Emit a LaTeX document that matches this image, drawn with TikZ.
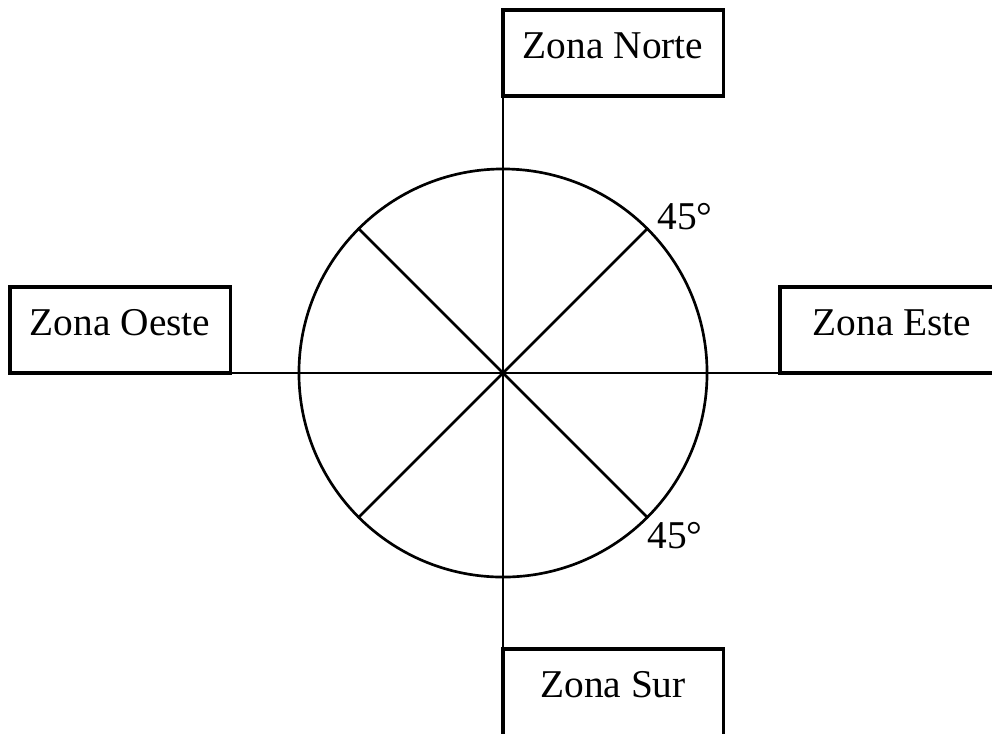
\documentclass[tikz,border=0pt]{standalone}
\usepackage{fontspec}
\setmainfont{Liberation Serif}
\usetikzlibrary{positioning}

\begin{document}
\begin{tikzpicture}[x=0.025cm, y=-0.025cm,
  zona/.style={draw, rectangle, line width=2.2pt, outer sep=0pt, inner sep=0pt,
    minimum width=5.5cm, text height=1.22cm, text depth=0.93cm,
    font=\fontsize{28}{34}\selectfont},
  lin/.style={line width=1.9pt},
  grado/.style={inner sep=0pt, font=\fontsize{28}{34}\selectfont}]
  \clip (0,0) rectangle (992,733);
  % Zonas
  \node[zona, anchor=north west] (norte) at (503,10)  {Zona Norte};
  \node[zona, anchor=north west] (oeste) at (10,287)  {Zona Oeste};
  \node[zona, anchor=north west, minimum width=5.6cm] (este) at (780,287) {Zona Este};
  \node[zona, anchor=north west, text depth=1.2cm] (sur) at (503,649) {Zona Sur};
  % Circle
  \node[draw, circle, lin, minimum size=10.2cm, inner sep=0pt] (rosa) at (503,373) {};
  % Axes
  \draw[lin] (norte.south west) -- (sur.north west);
  \draw[lin] (oeste.south east) -- (este.south west);
  \draw[lin] (rosa.45) -- (rosa.225);
  \draw[lin] (rosa.135) -- (rosa.315);
  % Angles
  \node[grado] (g1) at (685,217) {45°};
  \node[grado] (g2) at (675,536) {45°};
\end{tikzpicture}
\end{document}
